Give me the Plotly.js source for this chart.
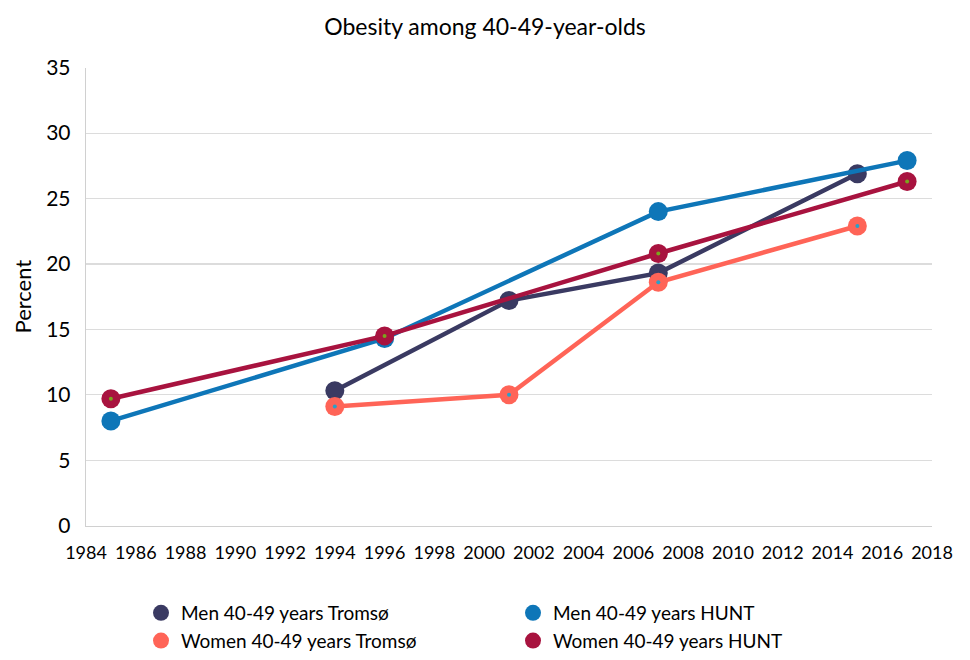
<!DOCTYPE html>
<html>
<head>
<meta charset="utf-8">
<script src="https://cdn.plot.ly/plotly-3.0.1.min.js"></script>
<style>html,body{margin:0;padding:0;background:#fff;}#chart{width:970px;height:660px;}</style>
</head>
<body>
<div id="chart"></div>
<script>
const seriesNames = ["Men 40-49 years Tromsø", "Men 40-49 years HUNT", "Women 40-49 years Tromsø", "Women 40-49 years HUNT"];
const tromsoYears = [1994, 2001, 2007, 2015];
const huntYears = [1985, 1996, 2007, 2017];
const menTromso = [10.3, 17.2, 19.3, 26.9];
const menHunt = [8.0, 14.3, 24.0, 27.9];
const womenTromso = [9.1, 10.0, 18.6, 22.9];
const womenHunt = [9.7, 14.5, 20.8, 26.3];
const colors = ["#3a3a62", "#0e76b8", "#ff6457", "#a8133f"];
const dotColors = [null, null, "#2aa0c8", "#7aa51e"];
const legendIds = ["legend", "legend2", "legend", "legend2"];

const xs = [tromsoYears, huntYears, tromsoYears, huntYears];
const ys = [menTromso, menHunt, womenTromso, womenHunt];

const traces = [];
for (let i = 0; i < 4; i++) {
  traces.push({
    type: "scatter", mode: "lines+markers", name: seriesNames[i], showlegend: false,
    x: xs[i], y: ys[i],
    line: {color: colors[i], width: 4.5},
    marker: {color: colors[i], size: 19},
    hoverinfo: "x+y"
  });
}
for (let i = 0; i < 4; i++) {
  if (!dotColors[i]) continue;
  traces.push({
    type: "scatter", mode: "markers", showlegend: false,
    x: xs[i], y: ys[i],
    marker: {color: dotColors[i], size: 4},
    hoverinfo: "skip"
  });
}
// legend entries (marker only)
const legendOrder = [0, 2, 1, 3];
legendOrder.forEach(i => {
  traces.push({
    type: "scatter", mode: "markers", name: seriesNames[i], legend: legendIds[i],
    x: [null], y: [null], showlegend: true,
    marker: {color: colors[i], size: 16}
  });
});

const W = 970, H = 660;
const font = "Lato, 'Open Sans', sans-serif";
const legendCommon = {
  orientation: "v", xanchor: "left", yanchor: "top",
  font: {size: 19, color: "#000"}, itemwidth: 30, tracegroupgap: 0, bgcolor: "rgba(0,0,0,0)",
  traceorder: "normal"
};
const layout = {
  width: W, height: H,
  margin: {l: 0, r: 0, t: 0, b: 0, pad: 0},
  paper_bgcolor: "#fff", plot_bgcolor: "#fff",
  font: {family: font, color: "#000", size: 17},
  title: {text: "Obesity among 40-49-year-olds", x: 0.5, xanchor: "center", y: 1 - 27 / H, yanchor: "middle", font: {size: 23, family: font, color: "#000"}},
  xaxis: {
    domain: [86 / W, 932 / W],
    range: [1984, 2018], dtick: 2, tick0: 1984, showgrid: false, zeroline: false,
    showline: true, linecolor: "#d0d0d0", linewidth: 1.3, ticks: "",
    tickfont: {size: 18}, ticklabelstandoff: 10, automargin: false
  },
  yaxis: {
    domain: [1 - 528 / H, 1 - 68 / H],
    range: [0, 35], dtick: 5, tick0: 0, showgrid: true, gridcolor: "#dcdcdc", gridwidth: 1.2,
    zeroline: false, showline: true, linecolor: "#d0d0d0", linewidth: 1.3, ticks: "",
    tickfont: {size: 21}, ticklabelstandoff: 10, automargin: false,
    title: {text: "Percent", font: {size: 22}, standoff: 8}
  },
  legend: Object.assign({}, legendCommon, {x: 141 / W, y: 1 - 597 / H}),
  legend2: Object.assign({}, legendCommon, {x: 513 / W, y: 1 - 597 / H}),
  showlegend: true
};

Plotly.newPlot("chart", traces, layout, {displayModeBar: false, staticPlot: true});
</script>
</body>
</html>
